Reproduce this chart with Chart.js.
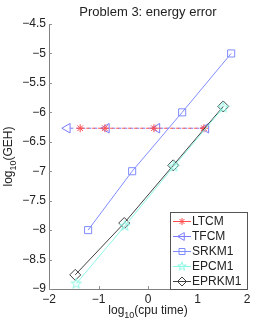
<!DOCTYPE html>
<html><head><meta charset="utf-8">
<script src="https://cdn.jsdelivr.net/npm/chart.js@4/dist/chart.umd.min.js"></script>
<style>html,body{margin:0;padding:0;background:#fff}#wrap{width:273px;height:327px}</style>
</head><body><div id="wrap"><canvas id="c" width="273" height="327"></canvas></div>
<script>
const titleText = "Problem 3: energy error";
const seriesNames = ["LTCM", "TFCM", "SRKM1", "EPCM1", "EPRKM1"];
const ltcmX = [-1.37, -0.87, 0.12, 1.13];
const ltcmY = [-6.27, -6.27, -6.27, -6.27];
const tfcmX = [-1.63, -0.84, 0.18, 1.17];
const tfcmY = [-6.27, -6.27, -6.27, -6.27];
const srkmX = [-1.21, -0.32, 0.69, 1.68];
const srkmY = [-8.0, -7.0, -6.0, -5.0];
const epcmX = [-1.45, -0.47, 0.52, 1.52];
const epcmY = [-8.91, -7.93, -6.92, -5.92];
const eprkX = [-1.47, -0.48, 0.51, 1.52];
const eprkY = [-8.76, -7.88, -6.9, -5.9];
const xTicks = [-2, -1, 0, 1, 2];
const yTicks = [-9, -8.5, -8, -7.5, -7, -6.5, -6, -5.5, -5, -4.5];

const FONT = "'Liberation Sans', Arial, sans-serif";
const colors = ["#ff4d4d", "#7b7bff", "#7f8cff", "#8cf7e4", "#404040"];

function pts(xs, ys){ return xs.map((x,i)=>({x:x, y:ys[i]})); }

function starCanvas(color, r){
  const s = Math.ceil(2*r+3), cv = document.createElement('canvas'); cv.width = s; cv.height = s;
  const g = cv.getContext('2d'); const ri = r*0.4, cx = s/2, cy = s/2;
  g.beginPath();
  for (let k=0;k<10;k++){ const a = -Math.PI/2 + k*Math.PI/5; const rr = k%2? ri : r;
    const px = cx + rr*Math.cos(a), py = cy + rr*Math.sin(a); k? g.lineTo(px,py) : g.moveTo(px,py); }
  g.closePath(); g.strokeStyle = color; g.lineWidth = 1; g.stroke();
  return cv;
}
const starImg = starCanvas(colors[3], 5.5);
const starSmall = starCanvas(colors[3], 4.5);

function fmt(v){ return String(v).replace('-', '\u2212'); }

function drawMarker(ctx, i, x, y){
  const c = colors[i]; ctx.save(); ctx.strokeStyle = c; ctx.lineWidth = 1; ctx.setLineDash([]);
  ctx.beginPath();
  if (i===0){ const r=3.5; for (let k=0;k<4;k++){ const a=k*Math.PI/4; ctx.moveTo(x-r*Math.cos(a),y-r*Math.sin(a)); ctx.lineTo(x+r*Math.cos(a),y+r*Math.sin(a)); } ctx.stroke(); }
  else if (i===1){ const r=4.5; ctx.moveTo(x-r,y); ctx.lineTo(x+r*0.5,y-r*0.87); ctx.lineTo(x+r*0.5,y+r*0.87); ctx.closePath(); ctx.stroke(); }
  else if (i===2){ ctx.rect(x-3,y-3,6,6); ctx.stroke(); }
  else if (i===3){ ctx.drawImage(starSmall, x-starSmall.width/2, y-starSmall.height/2); }
  else { const r=4.5; ctx.moveTo(x,y-r); ctx.lineTo(x+r,y); ctx.lineTo(x,y+r); ctx.lineTo(x-r,y); ctx.closePath(); ctx.stroke(); }
  ctx.restore();
}

function drawSubLabel(ctx, x, y, pre, sub, post, size){
  const sz2 = Math.round(size*0.72);
  ctx.font = size + "px " + FONT;
  const w1 = ctx.measureText(pre).width;
  const w3 = ctx.measureText(post).width;
  ctx.font = sz2 + "px " + FONT;
  const w2 = ctx.measureText(sub).width;
  const tot = w1+w2+w3; let sx = x - tot/2;
  ctx.textAlign = 'left'; ctx.textBaseline = 'alphabetic';
  ctx.font = size + "px " + FONT; ctx.fillText(pre, sx, y);
  ctx.font = sz2 + "px " + FONT; ctx.fillText(sub, sx+w1, y+3.5);
  ctx.font = size + "px " + FONT; ctx.fillText(post, sx+w1+w2, y);
}

const deco = {
  id: 'deco',
  afterDraw(chart){
    const ctx = chart.ctx, a = chart.chartArea, xs = chart.scales.x, ys = chart.scales.y;
    ctx.save();
    // inward tick marks
    ctx.strokeStyle = '#909090'; ctx.lineWidth = 1; ctx.beginPath();
    xTicks.forEach(v=>{ const px = Math.round(xs.getPixelForValue(v))+0.5; ctx.moveTo(px, a.bottom); ctx.lineTo(px, a.bottom-3); });
    yTicks.forEach(v=>{ const py = Math.round(ys.getPixelForValue(v))+0.5; ctx.moveTo(a.left, py); ctx.lineTo(a.left+3, py); });
    ctx.stroke();
    // title
    ctx.fillStyle = '#222'; ctx.font = "13px " + FONT; ctx.textAlign = 'center'; ctx.textBaseline = 'alphabetic';
    ctx.fillText(titleText, (a.left+a.right)/2, 15.5);
    // axis titles
    ctx.fillStyle = '#222';
    drawSubLabel(ctx, (a.left+a.right)/2, 314, "log", "10", "(cpu time)", 12);
    ctx.save(); ctx.translate(12, (a.top+a.bottom)/2); ctx.rotate(-Math.PI/2);
    drawSubLabel(ctx, 0, 0, "log", "10", "(GEH)", 12); ctx.restore();
    // legend
    const lx = 170.5, ly = 212.5, lw = 77, lh = 77;
    ctx.fillStyle = '#fff'; ctx.fillRect(lx, ly, lw, lh);
    ctx.strokeStyle = '#555'; ctx.lineWidth = 1; ctx.strokeRect(lx, ly, lw, lh);
    chart.data.datasets.forEach((ds, i)=>{
      const yy = 221 + i*15;
      ctx.save(); ctx.strokeStyle = colors[i]; ctx.lineWidth = 1;
      ctx.beginPath(); ctx.moveTo(173, yy+0.5); ctx.lineTo(191, yy+0.5); ctx.stroke(); ctx.restore();
      drawMarker(ctx, i, 182, yy+0.5);
      ctx.fillStyle = '#222'; ctx.font = "12px " + FONT; ctx.textAlign = 'left'; ctx.textBaseline = 'middle';
      ctx.fillText(ds.label, 192, yy+1);
    });
    ctx.restore();
  }
};

const datasets = [
  {label: seriesNames[0], data: pts(ltcmX, ltcmY), borderColor: colors[0], borderDash: [3,3], borderDashOffset: 0,
   pointStyle: 'star', pointRadius: 4, pointBorderColor: colors[0], backgroundColor: 'transparent', pointBackgroundColor: 'transparent', order: 4},
  {label: seriesNames[1], data: pts(tfcmX, tfcmY), borderColor: colors[1], borderDash: [3,3], borderDashOffset: 3,
   pointStyle: 'triangle', rotation: -90, pointRadius: 5.5, pointBorderColor: colors[1], backgroundColor: 'transparent', pointBackgroundColor: 'transparent', order: 5},
  {label: seriesNames[2], data: pts(srkmX, srkmY), borderColor: colors[2],
   pointStyle: 'rect', pointRadius: 5, pointBorderColor: colors[2], backgroundColor: 'transparent', pointBackgroundColor: 'transparent', order: 3},
  {label: seriesNames[3], data: pts(epcmX, epcmY), borderColor: colors[3],
   pointStyle: starImg, pointRadius: 5.5, backgroundColor: 'transparent', pointBackgroundColor: 'transparent', order: 1},
  {label: seriesNames[4], data: pts(eprkX, eprkY), borderColor: colors[4],
   pointStyle: 'rectRot', pointRadius: 5.5, pointBorderColor: colors[4], backgroundColor: 'transparent', pointBackgroundColor: 'transparent', order: 2}
];
datasets.forEach(d=>{ d.showLine = true; d.borderWidth = 1; d.pointBorderWidth = 1; d.tension = 0; d.fill = false; });

new Chart(document.getElementById('c'), {
  type: 'scatter',
  data: { datasets: datasets },
  plugins: [deco],
  options: {
    responsive: false, animation: false, devicePixelRatio: 1,
    layout: { padding: { left: 0, top: 24, right: 26, bottom: 0 } },
    plugins: { legend: {display: false}, tooltip: {enabled: false}, title: {display: false} },
    scales: {
      x: { type: 'linear', min: -2, max: 2,
        afterFit(s){ s.height = 38; },
        afterBuildTicks(s){ s.ticks = xTicks.map(v=>({value:v})); },
        grid: { display: true, drawOnChartArea: false, drawTicks: false, color: 'transparent' },
        border: { display: true, color: '#808080', width: 1 },
        ticks: { padding: 3, color: '#222', font: {family: FONT, size: 12}, callback: v=>fmt(v), maxRotation: 0, autoSkip: false } },
      y: { type: 'linear', min: -9, max: -4.5,
        afterFit(s){ s.width = 49; },
        afterBuildTicks(s){ s.ticks = yTicks.map(v=>({value:v})); },
        grid: { display: true, drawOnChartArea: false, drawTicks: false, color: 'transparent' },
        border: { display: true, color: '#808080', width: 1 },
        ticks: { padding: 3, color: '#222', font: {family: FONT, size: 12}, callback: v=>fmt(v), autoSkip: false } }
    }
  }
});
</script></body></html>
